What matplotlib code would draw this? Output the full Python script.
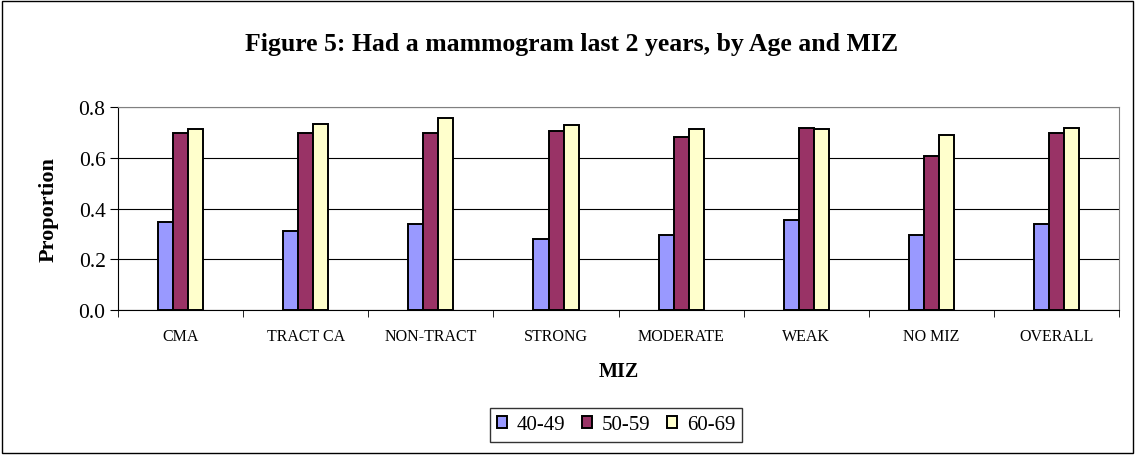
import matplotlib.pyplot as plt
import numpy as np
from matplotlib.patches import Rectangle

categories = ['CMA', 'TRACT CA', 'NON-TRACT', 'STRONG', 'MODERATE', 'WEAK', 'NO MIZ', 'OVERALL']
age_groups = ['40-49', '50-59', '60-69']
vals_40_49 = [0.348, 0.310, 0.340, 0.281, 0.297, 0.355, 0.297, 0.340]
vals_50_59 = [0.699, 0.699, 0.697, 0.705, 0.683, 0.718, 0.608, 0.699]
vals_60_69 = [0.712, 0.735, 0.755, 0.728, 0.712, 0.712, 0.689, 0.718]
colors = ['#9999FF', '#993366', '#FFFFCC']

plt.rcParams['font.family'] = ['Liberation Serif', 'DejaVu Serif']

fig = plt.figure(figsize=(11.35, 4.56), dpi=100)
fig.patches.append(Rectangle((0.002, 0.004), 0.996, 0.992, transform=fig.transFigure,
                             fill=False, edgecolor='black', lw=1.0))

ax = fig.add_axes([0.104, 0.318, 0.882, 0.445])
x = np.arange(len(categories))
w = 0.12
for i, (vals, lab) in enumerate(zip([vals_40_49, vals_50_59, vals_60_69], age_groups)):
    ax.bar(x + (i - 1) * w, vals, width=w, color=colors[i], edgecolor='black',
           linewidth=1.4, label=lab, zorder=3)

ax.set_xlim(-0.5, len(categories) - 0.5)
ax.set_ylim(0, 0.8)
ax.set_yticks([0.0, 0.2, 0.4, 0.6, 0.8])
ax.set_yticklabels(['0.0', '0.2', '0.4', '0.6', '0.8'], fontsize=15.5)
ax.yaxis.grid(True, color='black', lw=0.8, zorder=0)
ax.set_xticks(x)
ax.set_xticklabels(categories, fontsize=11.5)
ax.set_xticks(np.arange(len(categories) + 1) - 0.5, minor=True)
ax.tick_params(axis='x', which='major', length=0, pad=13)
ax.tick_params(axis='x', which='minor', length=5, direction='out')
ax.tick_params(axis='y', length=6, direction='out', pad=3)

for s in ['top', 'right']:
    ax.spines[s].set_color('#808080')
for s in ['left', 'bottom']:
    ax.spines[s].set_color('black')

ax.set_ylabel('Proportion', fontsize=16, fontweight='bold', labelpad=14)
ax.set_xlabel('MIZ', fontsize=14.5, fontweight='bold', labelpad=12)

fig.text(0.504, 0.903, 'Figure 5: Had a mammogram last 2 years, by Age and MIZ',
         ha='center', va='center', fontsize=18.5, fontweight='bold')

leg = ax.legend(loc='center', ncol=3, fontsize=15, frameon=True, fancybox=False,
                handlelength=0.5, handleheight=0.5, handletextpad=0.45,
                columnspacing=0.8, borderpad=0.35, borderaxespad=0)
leg.set_bbox_to_anchor((0.5427, 0.0658), transform=fig.transFigure)
leg.get_frame().set_edgecolor('black')
leg.get_frame().set_linewidth(1.0)

fig.savefig('out.png', dpi=100)
